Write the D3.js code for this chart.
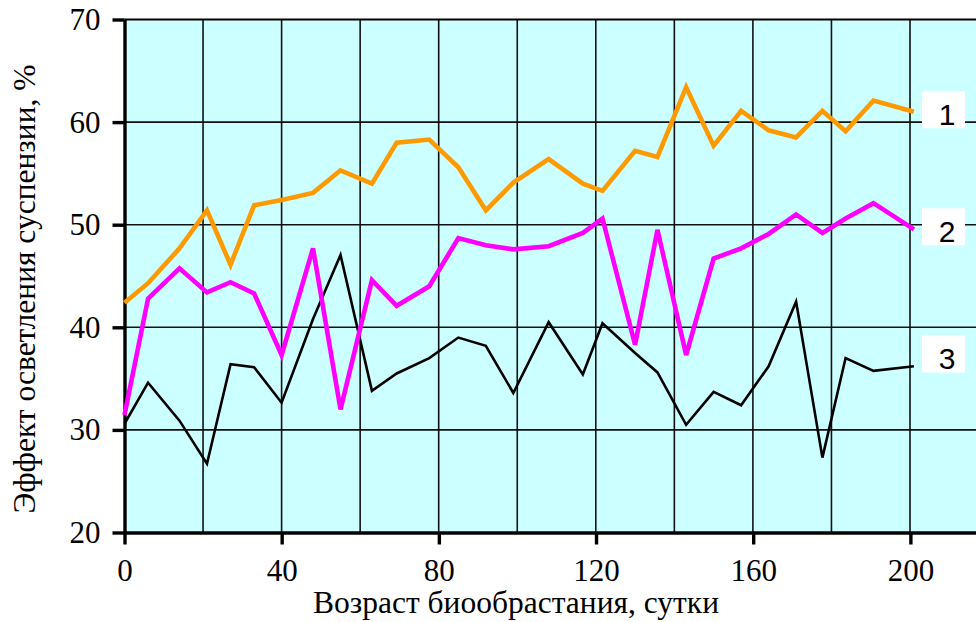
<!DOCTYPE html>
<meta charset="utf-8">
<script src="https://d3js.org/d3.v7.min.js"></script>
<body>
<style type="text/css">
    html, body { margin: 0; background: white; }
    svg { display: block; }
</style>
<svg width="976" height="622"></svg>
<script>

    // age of biofouling, days
    var days = [0, 6, 14, 21, 27, 33, 40, 48, 55, 63, 69.3, 77.6, 85, 92, 99, 108, 116.7, 121.7,
                130, 135.7, 143, 150, 157, 164, 171, 177.7, 183.6, 190.7, 201];

    // suspension clarification effect, %
    var series1 = [42.4, 44.3, 47.7, 51.4, 46.1, 51.9, 52.4, 53.1, 55.3, 54.0, 58.0, 58.3, 55.6, 51.4, 54.1,
                   56.4, 54.0, 53.3, 57.2, 56.6, 63.4, 57.7, 61.1, 59.2, 58.5, 61.1, 59.1, 62.1, 61.0];
    var series2 = [31.45, 42.8, 45.75, 43.4, 44.4, 43.3, 37.3, 47.7, 32.0, 44.6, 42.1, 44.0, 48.7, 48.0, 47.6,
                   47.9, 49.2, 50.6, 38.3, 49.5, 37.3, 46.7, 47.7, 49.1, 51.0, 49.2, 50.6, 52.1, 49.55];
    var series3 = [30.6, 34.6, 30.9, 26.7, 36.4, 36.1, 32.65, 40.8, 47.05, 33.8, 35.5, 37.0, 39.0, 38.2, 33.6,
                   40.5, 35.4, 40.4, 37.5, 35.6, 30.5, 33.7, 32.4, 36.2, 42.5, 27.3, 37.0, 35.75, 36.2];

    var seriesNames = ['1', '2', '3'];
    var labelValues = [61.2, 49.8, 37.4];

    var xTicks = [0, 40, 80, 120, 160, 200];
    var xGrid = [20, 40, 60, 80, 100, 120, 140, 160, 180, 200];
    var yTicks = [20, 30, 40, 50, 60, 70];

    var xTitle = 'Возраст биообрастания, сутки';
    var yTitle = 'Эффект осветления суспензии, %';

    var plotL = 124.5, plotR = 976, plotT = 19.5, plotB = 532.5;

    var x = d3.scaleLinear().domain([0, 200]).range([plotL, 910]);
    var y = d3.scaleLinear().domain([20, 70]).range([plotB, plotT]);

    var svg = d3.select('svg');

    svg.append('rect')
        .attr('x', plotL).attr('y', plotT)
        .attr('width', plotR - plotL).attr('height', plotB - plotT)
        .attr('fill', '#ccffff');

    // grid
    svg.append('g').selectAll('line').data(xGrid).enter().append('line')
        .attr('x1', function (d) { return x(d); }).attr('x2', function (d) { return x(d); })
        .attr('y1', plotT).attr('y2', plotB)
        .attr('stroke', '#111').attr('stroke-width', 1.6);

    svg.append('g').selectAll('line').data(yTicks.slice(1, -1)).enter().append('line')
        .attr('x1', plotL).attr('x2', plotR)
        .attr('y1', function (d) { return y(d); }).attr('y2', function (d) { return y(d); })
        .attr('stroke', '#111').attr('stroke-width', 1.6);

    // top frame
    svg.append('line')
        .attr('x1', plotL).attr('x2', plotR).attr('y1', y(70)).attr('y2', y(70))
        .attr('stroke', '#000').attr('stroke-width', 2.2);

    // y axis
    var yAxis = d3.axisLeft(y).tickValues(yTicks).tickSize(12).tickSizeOuter(0).tickFormat(d3.format('d'));
    var gy = svg.append('g').attr('transform', 'translate(' + plotL + ',0)').call(yAxis);
    gy.select('.domain').attr('stroke-width', 3.4);
    gy.selectAll('.tick line').attr('stroke-width', 3.4);
    gy.selectAll('.tick text')
        .attr('x', -24)
        .attr('font-family', '"Liberation Serif", "Times New Roman", serif')
        .attr('font-size', 31).attr('fill', '#000');

    // x axis
    var xAxis = d3.axisBottom(d3.scaleLinear().domain([0, 216.7]).range([plotL, plotR]))
        .tickValues(xTicks).tickSize(12).tickSizeOuter(0).tickFormat(d3.format('d'));
    var gx = svg.append('g').attr('transform', 'translate(0,' + plotB + ')').call(xAxis);
    gx.select('.domain').attr('stroke-width', 3.6);
    gx.selectAll('.tick line').attr('stroke-width', 3.4);
    gx.selectAll('.tick text')
        .attr('y', 26)
        .attr('font-family', '"Liberation Serif", "Times New Roman", serif')
        .attr('font-size', 31).attr('fill', '#000');

    // lines
    var line = d3.line()
        .x(function (d, i) { return x(days[i]); })
        .y(function (d) { return y(d); });

    var lines = [
        { values: series3, color: '#000000', width: 2.6 },
        { values: series2, color: '#ff00ff', width: 4.6 },
        { values: series1, color: '#ff9900', width: 4.6 }
    ];

    svg.append('g').selectAll('path').data(lines).enter().append('path')
        .attr('d', function (d) { return line(d.values); })
        .attr('fill', 'none')
        .attr('stroke', function (d) { return d.color; })
        .attr('stroke-width', function (d) { return d.width; })
        .attr('stroke-linejoin', 'miter');

    // series labels
    var lab = svg.append('g').selectAll('g').data(seriesNames).enter().append('g')
        .attr('transform', function (d, i) { return 'translate(922,' + (y(labelValues[i]) - 18.5) + ')'; });
    lab.append('rect')
        .attr('width', 43).attr('height', 37).attr('fill', '#fff');
    lab.append('text')
        .attr('x', 25).attr('y', 33.5)
        .attr('text-anchor', 'middle')
        .attr('font-family', '"Liberation Sans", Arial, sans-serif')
        .attr('font-size', 30)
        .text(function (d) { return d; });

    // titles
    svg.append('text')
        .attr('x', 516).attr('y', 613)
        .attr('text-anchor', 'middle')
        .attr('font-family', '"Liberation Serif", "Times New Roman", serif')
        .attr('font-size', 31.5)
        .text(xTitle);

    svg.append('text')
        .attr('transform', 'translate(35,289) rotate(-90)')
        .attr('text-anchor', 'middle')
        .attr('font-family', '"Liberation Serif", "Times New Roman", serif')
        .attr('font-size', 31.5)
        .text(yTitle);

</script>
</body>
